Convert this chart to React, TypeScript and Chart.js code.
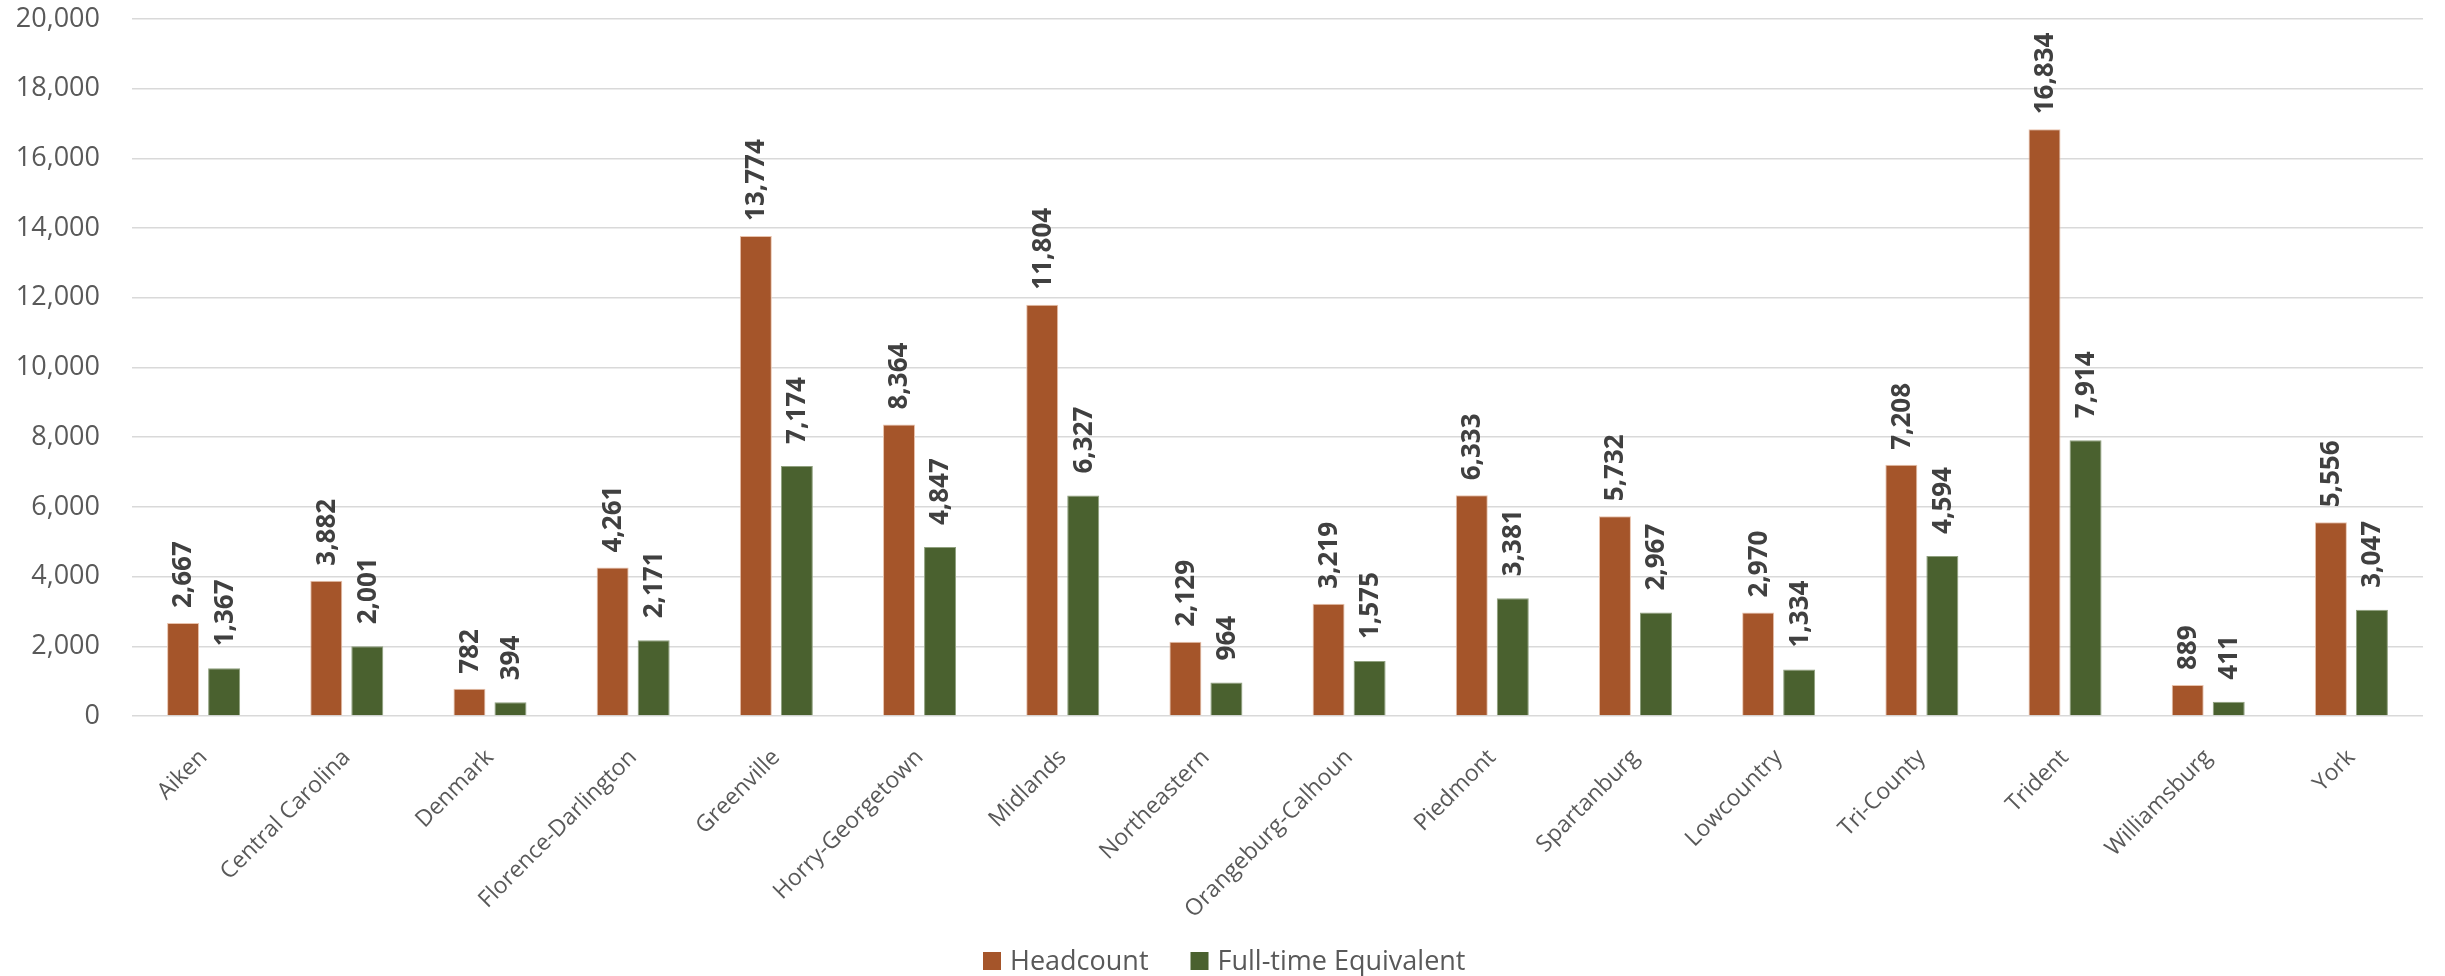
import React, { useEffect, useRef } from "react";
import { Chart, registerables } from "chart.js";

Chart.register(...registerables);

const categories = [
  "Aiken",
  "Central Carolina",
  "Denmark",
  "Florence-Darlington",
  "Greenville",
  "Horry-Georgetown",
  "Midlands",
  "Northeastern",
  "Orangeburg-Calhoun",
  "Piedmont",
  "Spartanburg",
  "Lowcountry",
  "Tri-County",
  "Trident",
  "Williamsburg",
  "York",
];

const headcount = [2667, 3882, 782, 4261, 13774, 8364, 11804, 2129, 3219, 6333, 5732, 2970, 7208, 16834, 889, 5556];
const fullTimeEquivalent = [1367, 2001, 394, 2171, 7174, 4847, 6327, 964, 1575, 3381, 2967, 1334, 4594, 7914, 411, 3047];

const seriesNames = ["Headcount", "Full-time Equivalent"];
const seriesColors = ["#A5552A", "#4A612F"];

const yMin = 0;
const yMax = 20000;
const yStep = 2000;

const fmt = (v: number) => v.toLocaleString("en-US");

const W = 2445;
const H = 976;

const dataLabelPlugin = {
  id: "dataLabels",
  afterDatasetsDraw(chart: any) {
    const ctx = chart.ctx;
    const offsets = [15, 22];
    ctx.save();
    ctx.font = "bold 26px 'Open Sans'";
    ctx.fillStyle = "#404040";
    chart.data.datasets.forEach((ds: any, i: number) => {
      const meta = chart.getDatasetMeta(i);
      meta.data.forEach((bar: any, j: number) => {
        const v = ds.data[j];
        ctx.save();
        ctx.translate(bar.x, bar.y - offsets[i]);
        ctx.rotate(-Math.PI / 2);
        ctx.textAlign = "left";
        ctx.textBaseline = "middle";
        ctx.fillText(fmt(v), 0, 1);
        ctx.restore();
      });
    });
    ctx.restore();
  },
};

const legendPlugin = {
  id: "customLegend",
  afterDraw(chart: any) {
    const ctx = chart.ctx;
    const cy = 961;
    let x = 983;
    ctx.save();
    ctx.font = "27px 'Open Sans'";
    ctx.textBaseline = "middle";
    ctx.textAlign = "left";
    chart.data.datasets.forEach((ds: any) => {
      ctx.fillStyle = ds.backgroundColor;
      ctx.fillRect(x, cy - 9, 18, 18);
      x += 27;
      ctx.fillStyle = "#595959";
      ctx.fillText(ds.label, x, cy + 1);
      x += ctx.measureText(ds.label).width + 42;
    });
    ctx.restore();
  },
};

export default function App() {
  const ref = useRef<HTMLCanvasElement>(null);

  useEffect(() => {
    document.body.style.margin = "0";
    const canvas = ref.current!;
    const chart = new Chart(canvas, {
      type: "bar",
      data: {
        labels: categories,
        datasets: [
          {
            label: seriesNames[0],
            data: headcount,
            backgroundColor: seriesColors[0],
            borderColor: "#E8C2AC",
            borderWidth: 1,
            categoryPercentage: 0.573,
            barPercentage: 0.78,
          },
          {
            label: seriesNames[1],
            data: fullTimeEquivalent,
            backgroundColor: seriesColors[1],
            borderColor: "#8FA07E",
            borderWidth: 1,
            categoryPercentage: 0.573,
            barPercentage: 0.78,
          },
        ],
      },
      options: {
        responsive: false,
        animation: false,
        layout: { padding: { top: 19, right: 22, left: 0, bottom: 0 } },
        plugins: {
          legend: { display: false },
          tooltip: { enabled: false },
        },
        scales: {
          x: {
            grid: { display: false },
            border: { display: false },
            ticks: {
              color: "#595959",
              font: { family: "'Open Sans'", size: 23 },
              maxRotation: 45,
              minRotation: 45,
              autoSkip: false,
              padding: 20,
            },
            afterFit: (scale: any) => {
              scale.height = 260;
              scale.paddingLeft = 0;
              scale.paddingRight = 0;
            },
          },
          y: {
            min: yMin,
            max: yMax,
            grid: { color: "#D9D9D9", lineWidth: 1.5, drawTicks: false },
            border: { display: false },
            ticks: {
              stepSize: yStep,
              color: "#595959",
              font: { family: "'Open Sans'", size: 27 },
              padding: 32,
              callback: (v: any) => fmt(Number(v)),
            },
            afterFit: (scale: any) => {
              scale.width = 132;
              scale.paddingTop = 0;
              scale.paddingBottom = 0;
            },
          },
        },
      },
      plugins: [dataLabelPlugin, legendPlugin],
    });
    return () => chart.destroy();
  }, []);

  return (
    <div style={{ width: W, height: H, background: "#fff" }}>
      <canvas ref={ref} width={W} height={H} style={{ display: "block" }} />
    </div>
  );
}
